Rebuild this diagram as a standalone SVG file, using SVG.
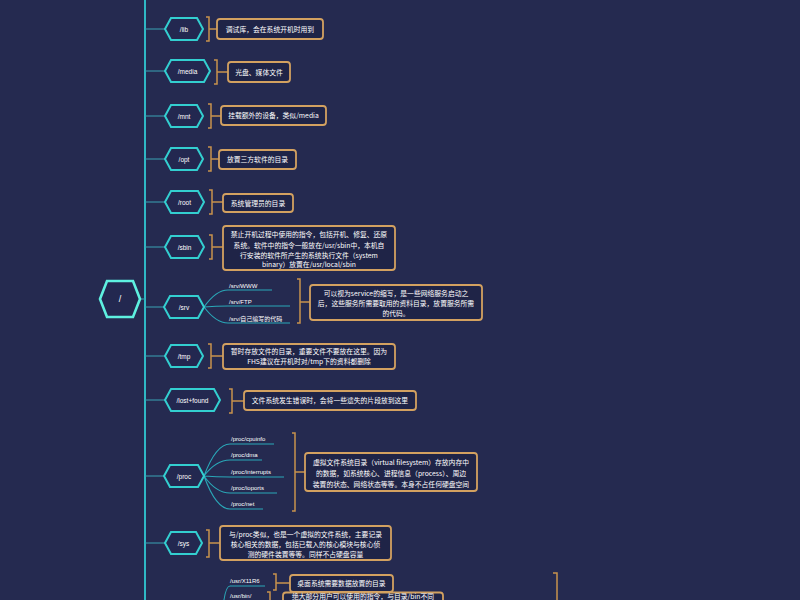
<svg xmlns="http://www.w3.org/2000/svg" width="800" height="600" viewBox="0 0 800 600">
<style>
.bg{fill:#252a50}
.hex{fill:#232850;stroke:#33cfd0;stroke-width:2}
.root{fill:#232850;stroke:#5ef0e0;stroke-width:2.6}
.lbl{fill:#ffffff;font-family:"Liberation Sans","Noto Sans CJK SC",sans-serif;font-size:6.5px;text-anchor:middle}
.sub{fill:#ffffff;font-family:"Liberation Sans","Noto Sans CJK SC",sans-serif;font-size:6px}
.box{fill:#1f2447;stroke:#d3a160;stroke-width:1.8}
.txt{fill:#ffffff;font-family:"Noto Sans CJK SC",sans-serif;font-size:6.8px;text-anchor:middle}
.brk{fill:none;stroke:#c8924c;stroke-width:1.5}
.trunk{fill:none;stroke:#2fb8c4;stroke-width:2}
.br{fill:none;stroke:#3aa3b4;stroke-width:1}
.fan{fill:none;stroke:#2aa8b8;stroke-width:1.1}
</style>
<rect class="bg" x="0" y="0" width="800" height="600"/>

<g id="connectors">
<path class="trunk" d="M145,0 V600"/>
<path class="br" d="M140,299 H145"/>
<path class="br" d="M145,29 H165 M145,71 H165 M145,116 H165 M145,159 H165 M145,202 H165 M145,247 H165 M145,307 H164 M145,356 H165 M145,400 H165 M145,476 H164 M145,543 H165"/>
<path class="fan" d="M204,307 Q216,290 228,290 H272 M204,307 Q216,306 228,306 H290 M204,307 Q216,323 228,323 H290"/>
<path class="fan" d="M204,476 Q216,444 230,444 H274 M204,476 Q216,460 230,460 H262 M204,476 Q216,477 230,477 H284 M204,476 Q216,493 230,493 H277 M204,476 Q216,509 230,509 H263"/>
<path class="fan" d="M222,620 Q224,586 230,586 H265 M222,620 Q225,601 230,601 H258"/>
</g>

<g id="root">
<polygon class="root" points="100,299 107,281 133,281 140,299 133,317 107,317"/>
<text class="lbl" x="120" y="302" style="font-size:9px">/</text>
</g>

<g id="n-lib">
<polygon class="hex" points="165,29 171,18 197,18 203,29 197,40 171,40"/>
<text class="lbl" x="184" y="31.5">/lib</text>
<path class="brk" d="M206,17 h3 V41 h-3 M209,29 h8"/>
<rect class="box" x="217" y="19" width="106" height="20" rx="3"/>
<text class="txt" x="270" y="31.5">调试库，会在系统开机时用到</text>
</g>

<g id="n-media">
<polygon class="hex" points="165,71 171,60 204,60 210,71 204,82 171,82"/>
<text class="lbl" x="187.5" y="73.5">/media</text>
<path class="brk" d="M214,60 h3 V84 h-3 M217,72 h11"/>
<rect class="box" x="228" y="62" width="62" height="20" rx="3"/>
<text class="txt" x="259" y="74.5">光盘、媒体文件</text>
</g>

<g id="n-mnt">
<polygon class="hex" points="165,116 171,105 197,105 203,116 197,127 171,127"/>
<text class="lbl" x="184" y="118.5">/mnt</text>
<path class="brk" d="M208,104 h3 V128 h-3 M211,116 h10"/>
<rect class="box" x="221" y="106" width="105" height="19" rx="3"/>
<text class="txt" x="273.5" y="118">挂载额外的设备，类似/media</text>
</g>

<g id="n-opt">
<polygon class="hex" points="165,159 171,148 197,148 203,159 197,170 171,170"/>
<text class="lbl" x="184" y="161.5">/opt</text>
<path class="brk" d="M208,147 h3 V171 h-3 M211,159 h8"/>
<rect class="box" x="219" y="150" width="77" height="19" rx="3"/>
<text class="txt" x="257.5" y="162">放置三方软件的目录</text>
</g>

<g id="n-root-dir">
<polygon class="hex" points="165,202 171,191 198,191 204,202 198,213 171,213"/>
<text class="lbl" x="184.5" y="204.5">/root</text>
<path class="brk" d="M209,190 h3 V214 h-3 M212,202 h11"/>
<rect class="box" x="223" y="194" width="70" height="18" rx="3"/>
<text class="txt" x="258" y="205.5">系统管理员的目录</text>
</g>

<g id="n-sbin">
<polygon class="hex" points="165,247 171,236 198,236 204,247 198,258 171,258"/>
<text class="lbl" x="184.5" y="249.5">/sbin</text>
<path class="brk" d="M209,235 h3 V259 h-3 M212,247 h11"/>
<rect class="box" x="223" y="226" width="172" height="44" rx="3"/>
<text class="txt" x="309" y="237">禁止开机过程中使用的指令，包括开机、修复、还原</text>
<text class="txt" x="309" y="247.5">系统。软件中的指令一般放在/usr/sbin中，本机自</text>
<text class="txt" x="309" y="258">行安装的软件所产生的系统执行文件（system</text>
<text class="txt" x="309" y="267">binary）放置在/usr/local/sbin</text>
</g>

<g id="n-srv">
<polygon class="hex" points="164,307 170,296 198,296 204,307 198,318 170,318"/>
<text class="lbl" x="184" y="309.5">/srv</text>
<text class="sub" x="229" y="287.5">/srv/WWW</text>
<text class="sub" x="229" y="303.5">/srv/FTP</text>
<text class="sub" x="229" y="320.5">/srv/自己编写的代码</text>
<path class="brk" d="M297,279 h3 V323 h-3 M300,302 h10"/>
<rect class="box" x="310" y="285" width="172" height="35" rx="3"/>
<text class="txt" x="396" y="295.5">可以视为service的缩写，是一些网络服务启动之</text>
<text class="txt" x="396" y="305.5">后，这些服务所需要取用的资料目录，放置服务所需</text>
<text class="txt" x="396" y="315.5">的代码。</text>
</g>

<g id="n-tmp">
<polygon class="hex" points="165,356 171,345 197,345 203,356 197,367 171,367"/>
<text class="lbl" x="184" y="358.5">/tmp</text>
<path class="brk" d="M208,344 h3 V368 h-3 M211,356 h12"/>
<rect class="box" x="223" y="344" width="172" height="25" rx="3"/>
<text class="txt" x="309" y="354">暂时存放文件的目录，重要文件不要放在这里。因为</text>
<text class="txt" x="309" y="364">FHS建议在开机时对/tmp下的资料都删除</text>
</g>

<g id="n-lostfound">
<polygon class="hex" points="165,400 171,389 214,389 220,400 214,411 171,411"/>
<text class="lbl" x="192.5" y="402.5">/lost+found</text>
<path class="brk" d="M229,389 h3 V413 h-3 M232,401 h12"/>
<rect class="box" x="244" y="391" width="172" height="19" rx="3"/>
<text class="txt" x="330" y="403">文件系统发生错误时，会将一些遗失的片段放到这里</text>
</g>

<g id="n-proc">
<polygon class="hex" points="164,476 170,465 198,465 204,476 198,487 170,487"/>
<text class="lbl" x="184" y="478.5">/proc</text>
<text class="sub" x="231" y="441">/proc/cpuinfo</text>
<text class="sub" x="231" y="457">/proc/dma</text>
<text class="sub" x="231" y="474">/proc/interrupts</text>
<text class="sub" x="231" y="490">/proc/ioports</text>
<text class="sub" x="231" y="506">/proc/net</text>
<path class="brk" d="M292,433 h3 V511 h-3 M295,472 h10"/>
<rect class="box" x="305" y="453" width="172" height="38" rx="3"/>
<text class="txt" x="391" y="464.5">虚拟文件系统目录（virtual filesystem）存放内存中</text>
<text class="txt" x="391" y="475.5">的数据，如系统核心、进程信息（process）、周边</text>
<text class="txt" x="391" y="486.5">装置的状态、网络状态等等。本身不占任何硬盘空间</text>
</g>

<g id="n-sys">
<polygon class="hex" points="165,543 171,532 196,532 202,543 196,554 171,554"/>
<text class="lbl" x="183.5" y="545.5">/sys</text>
<path class="brk" d="M206,530 h3 V557 h-3 M209,543 h11"/>
<rect class="box" x="220" y="526" width="171" height="34" rx="3"/>
<text class="txt" x="305.5" y="536.5">与/proc类似，也是一个虚拟的文件系统，主要记录</text>
<text class="txt" x="305.5" y="546.5">核心相关的数据，包括已载入的核心模块与核心侦</text>
<text class="txt" x="305.5" y="556.5">测的硬件装置等等。同样不占硬盘容量</text>
</g>

<g id="n-usr">
<text class="sub" x="230" y="583">/usr/X11R6</text>
<path class="brk" d="M273,574 h3 V590 h-3 M276,583 h14"/>
<rect class="box" x="290" y="575" width="103" height="17" rx="3"/>
<text class="txt" x="341.5" y="586">桌面系统需要数据放置的目录</text>
<text class="sub" x="230" y="597.5">/usr/bin/</text>
<path class="brk" d="M267,592 h3 V612 h-3"/>
<rect class="box" x="283" y="592.5" width="160" height="20" rx="3"/>
<text class="txt" x="363" y="598.6">绝大部分用户可以使用的指令，与目录/bin不同</text>
<path class="brk" d="M553,573 h4 V640 h-4"/>
</g>
</svg>
